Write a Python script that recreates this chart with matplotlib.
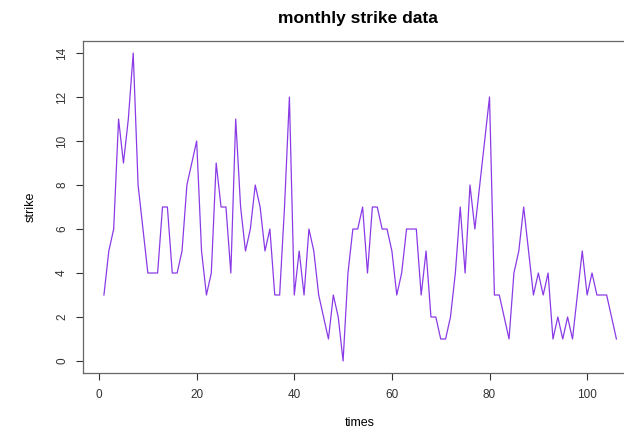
import matplotlib
matplotlib.use("Agg")
import matplotlib.pyplot as plt
import numpy as np

# monthly strike counts
times = np.arange(1, 107)
strike = [3, 5, 6, 11, 9, 11, 14, 8, 6, 4,
          4, 4, 7, 7, 4, 4, 5, 8, 9, 10,
          5, 3, 4, 9, 7, 7, 4, 11, 7, 5,
          6, 8, 7, 5, 6, 3, 3, 7, 12, 3,
          5, 3, 6, 5, 3, 2, 1, 3, 2, 0,
          4, 6, 6, 7, 4, 7, 7, 6, 6, 5,
          3, 4, 6, 6, 6, 3, 5, 2, 2, 1,
          1, 2, 4, 7, 4, 8, 6, 8, 10, 12,
          3, 3, 2, 1, 4, 5, 7, 5, 3, 4,
          3, 4, 1, 2, 1, 2, 1, 3, 5, 3,
          4, 3, 3, 3, 2, 1]
xticks = [0, 20, 40, 60, 80, 100]
yticks = [0, 2, 4, 6, 8, 10, 12, 14]

plt.rcParams["font.family"] = ["Liberation Sans", "DejaVu Sans"]

fig = plt.figure(figsize=(6.24, 4.29), dpi=100)
# R-style box, right side runs off the canvas like in the original
ax = fig.add_axes([0.1337, 0.1298, 0.887, 0.7753])
ax.plot(times, strike, color="#8a3be6", lw=0.9)

ax.set_xlim(-3.2, 110.2)
ax.set_ylim(-0.56, 14.56)
ax.set_xticks(xticks)
ax.set_yticks(yticks)
ax.tick_params(direction="out", length=5, width=0.8, colors="#333333", labelsize=8.5, pad=6)
for lab in ax.get_yticklabels():
    lab.set_rotation(90)
    lab.set_va("center")
for s in ax.spines.values():
    s.set_color("#666666")
    s.set_linewidth(0.9)

ax.set_xlabel("times", fontsize=9, labelpad=12)
ax.set_ylabel("strike", fontsize=9, labelpad=14)
fig.text(0.573, 0.958, "monthly strike data", ha="center", va="center",
         fontsize=12.5, fontweight="bold")

plt.savefig("out.png", dpi=100)
plt.close()
